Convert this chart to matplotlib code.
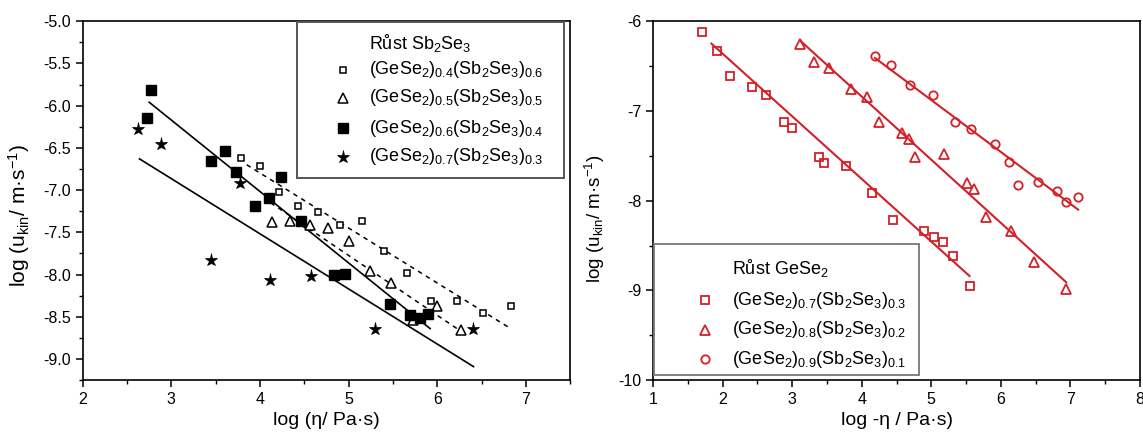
import numpy as np
import matplotlib
matplotlib.use("Agg")
import matplotlib.pyplot as plt
from matplotlib.patches import Rectangle
from matplotlib.ticker import MultipleLocator, FormatStrFormatter

plt.rcParams["font.family"] = ["Liberation Sans", "DejaVu Sans"]
plt.rcParams["mathtext.default"] = "regular"
plt.rcParams["axes.unicode_minus"] = False

RED = "#d42027"

# --- Sb2Se3 growth (left panel) ---
x04 = [3.79, 4.00, 4.21, 4.43, 4.65, 4.90, 5.15, 5.40, 5.66, 5.93, 6.22, 6.52, 6.83]
y04 = [-6.62, -6.71, -7.02, -7.19, -7.26, -7.41, -7.36, -7.72, -7.98, -8.31, -8.31, -8.46, -8.37]
x05 = [4.14, 4.34, 4.56, 4.77, 5.00, 5.24, 5.48, 5.73, 6.00, 6.27]
y05 = [-7.38, -7.37, -7.41, -7.45, -7.60, -7.96, -8.10, -8.54, -8.37, -8.66]
x06 = [2.77, 2.73, 3.45, 3.61, 3.73, 4.24, 3.94, 4.10, 4.46, 4.84, 4.96, 5.47, 5.69, 5.81, 5.90]
y06 = [-5.82, -6.15, -6.66, -6.54, -6.78, -6.84, -7.19, -7.09, -7.37, -8.00, -7.99, -8.35, -8.48, -8.51, -8.47]
x07 = [2.62, 2.88, 3.77, 3.45, 4.11, 4.58, 5.30, 6.40]
y07 = [-6.28, -6.45, -6.92, -7.83, -8.06, -8.02, -8.64, -8.64]

# linear fits, end points
fit04_x, fit04_y = [3.85, 6.83], [-6.70, -8.64]
fit05_x, fit05_y = [4.12, 6.28], [-7.15, -8.68]
fit06_x, fit06_y = [2.75, 5.92], [-5.96, -8.64]
fit07_x, fit07_y = [2.64, 6.41], [-6.63, -9.09]

# --- GeSe2 growth (right panel) ---
r07_x = [1.70, 1.92, 2.10, 2.42, 2.63, 2.89, 3.00, 3.39, 3.46, 3.77, 4.15, 4.45, 4.90, 5.04, 5.17, 5.31, 5.55]
r07_y = [-6.12, -6.33, -6.61, -6.73, -6.82, -7.12, -7.19, -7.51, -7.58, -7.61, -7.92, -8.21, -8.34, -8.41, -8.46, -8.62, -8.95]
r08_x = [3.12, 3.32, 3.53, 3.84, 4.07, 4.25, 4.58, 4.68, 4.77, 5.18, 5.52, 5.62, 5.79, 6.14, 6.48, 6.94]
r08_y = [-6.25, -6.45, -6.52, -6.76, -6.85, -7.12, -7.25, -7.31, -7.51, -7.48, -7.80, -7.87, -8.18, -8.34, -8.68, -8.98]
r09_x = [4.19, 4.42, 4.69, 5.03, 5.34, 5.57, 5.91, 6.11, 6.25, 6.54, 6.81, 6.94, 7.11]
r09_y = [-6.39, -6.49, -6.71, -6.82, -7.12, -7.20, -7.37, -7.57, -7.82, -7.79, -7.89, -8.02, -7.96]

rfit07_x, rfit07_y = [1.84, 5.55], [-6.25, -8.84]
rfit08_x, rfit08_y = [3.12, 6.94], [-6.22, -8.91]
rfit09_x, rfit09_y = [4.19, 7.11], [-6.41, -8.10]

left_labels = ["(GeSe$_2$)$_{0.4}$(Sb$_2$Se$_3$)$_{0.6}$",
               "(GeSe$_2$)$_{0.5}$(Sb$_2$Se$_3$)$_{0.5}$",
               "(GeSe$_2$)$_{0.6}$(Sb$_2$Se$_3$)$_{0.4}$",
               "(GeSe$_2$)$_{0.7}$(Sb$_2$Se$_3$)$_{0.3}$"]
right_labels = ["(GeSe$_2$)$_{0.7}$(Sb$_2$Se$_3$)$_{0.3}$",
                "(GeSe$_2$)$_{0.8}$(Sb$_2$Se$_3$)$_{0.2}$",
                "(GeSe$_2$)$_{0.9}$(Sb$_2$Se$_3$)$_{0.1}$"]

fig = plt.figure(figsize=(11.43, 4.41), dpi=100)
axL = fig.add_axes([0.0724, 0.138, 0.4264, 0.814])
axR = fig.add_axes([0.5713, 0.138, 0.4261, 0.814])

def style(ax):
    for side in ("top", "right", "left", "bottom"):
        ax.spines[side].set_linewidth(1.2)
    ax.tick_params(which="major", direction="out", length=5, width=1.1, labelsize=11.5,
                   top=False, right=False)
    ax.tick_params(which="minor", direction="out", length=3, width=1.0,
                   top=False, right=False)

# left panel
sty_L = [
    dict(marker="s", ms=5, mfc="white", mec="black", mew=1.1),
    dict(marker="^", ms=7, mfc="white", mec="black", mew=1.1),
    dict(marker="s", ms=6.5, mfc="black", mec="black", mew=1.0),
    dict(marker="*", ms=9.5, mfc="black", mec="black", mew=0.5),
]
for (xs, ys), s in zip([(x04, y04), (x05, y05), (x06, y06), (x07, y07)], sty_L):
    axL.plot(xs, ys, ls="none", **s, zorder=3)
axL.plot(fit04_x, fit04_y, color="black", lw=1.1, ls=(0, (3, 3)))
axL.plot(fit05_x, fit05_y, color="black", lw=1.1, ls=(0, (3, 3)))
axL.plot(fit06_x, fit06_y, color="black", lw=1.2)
axL.plot(fit07_x, fit07_y, color="black", lw=1.2)

axL.set_xlim(2, 7.5)
axL.set_ylim(-9.25, -5.0)
axL.xaxis.set_major_locator(MultipleLocator(1))
axL.xaxis.set_minor_locator(MultipleLocator(0.5))
axL.yaxis.set_major_locator(MultipleLocator(0.5))
axL.yaxis.set_minor_locator(MultipleLocator(0.25))
axL.yaxis.set_major_formatter(FormatStrFormatter("%.1f"))
style(axL)
axL.set_xlabel("log (η/ Pa·s)", fontsize=14)
axL.set_ylabel("log (u$_{kin}$/ m·s$^{-1}$)", fontsize=15)
axL.xaxis.set_label_coords(0.5, -0.09)
axL.yaxis.set_label_coords(-0.104, 0.46)

# left legend box
axL.add_patch(Rectangle((0.439, 0.562), 0.548, 0.436, transform=axL.transAxes,
                        fill=False, ec="#555555", lw=1.4, zorder=4))
axL.text(0.587, 0.939, "Růst Sb$_2$Se$_3$", transform=axL.transAxes,
         fontsize=13, va="center", ha="left")
for yy, lab, s in zip([0.865, 0.786, 0.702, 0.623], left_labels, sty_L):
    axL.plot([0.533], [yy], transform=axL.transAxes, clip_on=False, ls="none", **s)
    axL.text(0.587, yy, lab, transform=axL.transAxes, fontsize=13, va="center", ha="left")

# right panel
sty_R = [
    dict(marker="s", ms=5.5, mfc="none", mec=RED, mew=1.3),
    dict(marker="^", ms=7, mfc="none", mec=RED, mew=1.3),
    dict(marker="o", ms=6, mfc="none", mec=RED, mew=1.3),
]
for (xs, ys), s in zip([(r07_x, r07_y), (r08_x, r08_y), (r09_x, r09_y)], sty_R):
    axR.plot(xs, ys, ls="none", **s, zorder=3)
for fx, fy in [(rfit07_x, rfit07_y), (rfit08_x, rfit08_y), (rfit09_x, rfit09_y)]:
    axR.plot(fx, fy, color=RED, lw=1.5)

axR.set_xlim(1, 8)
axR.set_ylim(-10, -6)
axR.xaxis.set_major_locator(MultipleLocator(1))
axR.xaxis.set_minor_locator(MultipleLocator(0.5))
axR.yaxis.set_major_locator(MultipleLocator(1))
axR.yaxis.set_minor_locator(MultipleLocator(0.5))
style(axR)
axR.set_xlabel("log -η / Pa·s)", fontsize=14)
axR.set_ylabel("log (u$_{kin}$/ m·s$^{-1}$)", fontsize=13.5)
axR.xaxis.set_label_coords(0.5, -0.09)
axR.yaxis.set_label_coords(-0.094, 0.45)

axR.add_patch(Rectangle((0.003, 0.014), 0.543, 0.365, transform=axR.transAxes,
                        fill=False, ec="#777777", lw=1.3, zorder=4))
axR.text(0.162, 0.312, "Růst GeSe$_2$", transform=axR.transAxes,
         fontsize=13, va="center", ha="left")
for yy, lab, s in zip([0.223, 0.140, 0.058], right_labels, sty_R):
    axR.plot([0.107], [yy], transform=axR.transAxes, clip_on=False, ls="none", **s)
    axR.text(0.162, yy, lab, transform=axR.transAxes, fontsize=13, va="center", ha="left")

fig.savefig("out.png", dpi=100)
